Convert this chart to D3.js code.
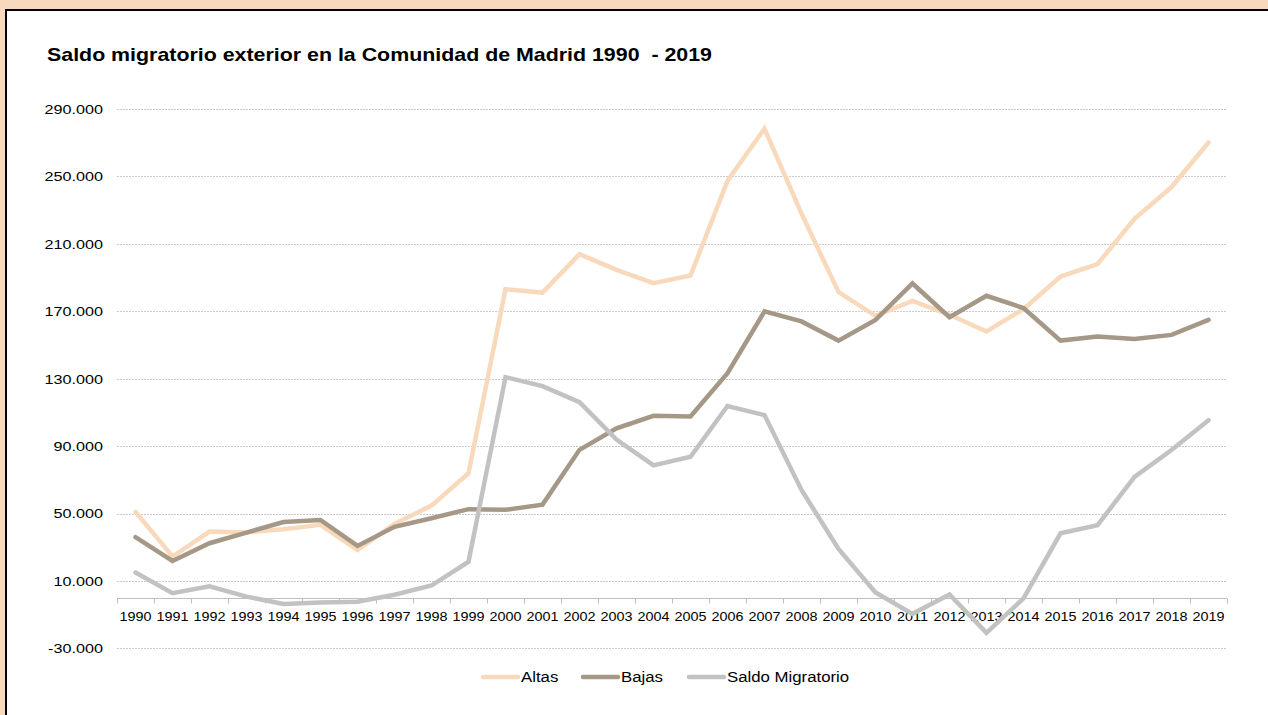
<!DOCTYPE html>
<html>
<head>
<meta charset="utf-8">
<script src="https://cdn.jsdelivr.net/npm/d3@7"></script>
<style>
  html, body { margin: 0; padding: 0; background: #F9D9BD; }
  svg { display: block; }
  text { font-family: "Liberation Sans", Arial, sans-serif; fill: #000; }
</style>
</head>
<body>
<svg id="chart" width="1268" height="715"></svg>
<script>
const title = "Saldo migratorio exterior en la Comunidad de Madrid 1990  - 2019";
const years = [1990,1991,1992,1993,1994,1995,1996,1997,1998,1999,2000,2001,2002,2003,2004,2005,2006,2007,2008,2009,2010,2011,2012,2013,2014,2015,2016,2017,2018,2019];
const altas = [51000,24500,39300,38800,40700,43300,28400,43900,54700,73900,183100,181100,203900,194600,186700,191200,247400,278300,228000,181400,167300,176200,167900,158000,171300,190600,198000,224900,243700,270100];
const bajas = [36000,21900,32400,38700,45000,46200,30800,42100,47200,52600,52200,55300,87800,100600,108000,107600,133300,169900,164000,152600,164900,186500,166500,179200,171900,152600,155000,153500,156000,164900];
const saldo = [15000,2800,6800,700,-3600,-2800,-2300,1800,7300,21400,130900,125600,116100,93900,78600,83700,113800,108400,64000,29000,3200,-9500,2000,-20800,-300,38300,43100,71800,87700,105400];
const yTicks = [-30000,10000,50000,90000,130000,170000,210000,250000,290000];
const seriesNames = ["Altas","Bajas","Saldo Migratorio"];
const seriesColors = ["#F9D9BB","#A69886","#C2C2C2"];

const svg = d3.select("#chart");

// frame
svg.append("rect").attr("x", 6).attr("y", 10).attr("width", 1280).attr("height", 720)
  .attr("fill", "#fff").attr("stroke", "#000").attr("stroke-width", 2);

// title
svg.append("text").attr("x", 47).attr("y", 61)
  .attr("font-size", 19).attr("font-weight", "bold")
  .attr("textLength", 665).attr("lengthAdjust", "spacingAndGlyphs")
  .style("white-space", "pre")
  .text(title);

const x = d3.scaleBand().domain(years).range([117, 1227]).paddingInner(0).paddingOuter(0);
const y = d3.scaleLinear().domain([-30000, 290000]).range([648.4, 109]);

const loc = d3.formatLocale({decimal: ",", thousands: ".", grouping: [3], currency: ["", ""], minus: "-"});
const fmt = loc.format(",.0f");

// gridlines
svg.append("g").selectAll("line").data(yTicks).join("line")
  .attr("x1", 117).attr("x2", 1227)
  .attr("y1", d => Math.round(y(d)) + 0.5).attr("y2", d => Math.round(y(d)) + 0.5)
  .attr("stroke", "#CACACA").attr("stroke-width", 1).attr("stroke-dasharray", "2,1");

// y axis (labels only)
const sxY = 1.2;
const yAxis = svg.append("g").attr("transform", "translate(117,0)")
  .call(d3.axisLeft(y).tickValues(yTicks).tickFormat(fmt).tickSize(0).tickPadding(0));
yAxis.select(".domain").remove();
yAxis.selectAll("text")
  .attr("font-size", 13.5)
  .attr("x", -14 / sxY)
  .attr("transform", `scale(${sxY},1)`)
  .style("font-family", '"Liberation Sans", Arial, sans-serif');

// x axis
const y0 = Math.round(y(0)) + 0.5;
const sxX = 1.2;
const xAxis = svg.append("g").attr("transform", `translate(0,${y0})`)
  .call(d3.axisBottom(x).tickSize(0).tickPadding(13.5));
xAxis.select(".domain").attr("stroke", "#BFBFBF").attr("d", `M117,0H1227`);
xAxis.selectAll("text")
  .attr("font-size", 12)
  .attr("transform", `scale(${sxX},1)`)
  .style("font-family", '"Liberation Sans", Arial, sans-serif');
xAxis.selectAll(".tick").each(function() {
  const g = d3.select(this);
  const tr = g.attr("transform");
  const m = /translate\(([-\d.]+),/.exec(tr);
  const tx = +m[1];
  g.attr("transform", null);
  g.select("text").attr("x", tx / sxX);
});
const edges = years.map(d => x(d)).concat([x(years[years.length - 1]) + x.bandwidth()]);
xAxis.append("g").selectAll("line").data(edges).join("line")
  .attr("x1", d => Math.round(d) + 0.5).attr("x2", d => Math.round(d) + 0.5)
  .attr("y1", 0).attr("y2", 5)
  .attr("stroke", "#BFBFBF");

// lines
const allSeries = [altas, bajas, saldo];
const line = d3.line().x((d, i) => x(years[i]) + x.bandwidth() / 2).y(d => y(d));
svg.append("g").selectAll("path").data(allSeries).join("path")
  .attr("d", d => line(d))
  .attr("fill", "none")
  .attr("stroke", (d, i) => seriesColors[i])
  .attr("stroke-width", 4.5)
  .attr("stroke-linejoin", "miter")
  .attr("stroke-linecap", "round");

// legend
const legX = [483, 583, 689];
const sxL = 1.12;
const leg = svg.append("g");
seriesNames.forEach((name, i) => {
  leg.append("line").attr("x1", legX[i]).attr("x2", legX[i] + 35)
    .attr("y1", 677).attr("y2", 677)
    .attr("stroke", seriesColors[i]).attr("stroke-width", 4.5).attr("stroke-linecap", "round");
  leg.append("text")
    .attr("x", (legX[i] + 38) / sxL).attr("y", 682)
    .attr("transform", `scale(${sxL},1)`)
    .attr("font-size", 15)
    .text(name);
});
</script>
</body>
</html>
